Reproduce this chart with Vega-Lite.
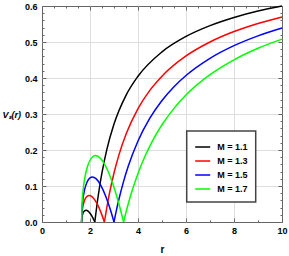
{
  "$schema": "https://vega.github.io/schema/vega-lite/v6.json",
  "width": 240,
  "height": 216,
  "autosize": {"type": "none"},
  "padding": {"left": 42, "top": 6, "right": 7, "bottom": 34},
  "config": {
    "view": {"stroke": "#666", "strokeWidth": 1},
    "legend": {"strokeWidth": 1.5},
    "axis": {"labelFont": "Liberation Sans", "labelFontWeight": "bold", "labelFontSize": 9, "labelColor": "#000", "titleFont": "Liberation Sans", "titleFontWeight": "bold", "titleFontSize": 10, "titleColor": "#000"}
  },
  "data": {"values": [
    {"M":"M = 1.1","s":"L","r":1.65,"V":0},{"M":"M = 1.1","s":"L","r":1.67,"V":0.0155},{"M":"M = 1.1","s":"L","r":1.71,"V":0.0248},{"M":"M = 1.1","s":"L","r":1.77,"V":0.0308},{"M":"M = 1.1","s":"L","r":1.84,"V":0.0325},{"M":"M = 1.1","s":"L","r":1.92,"V":0.0301},{"M":"M = 1.1","s":"L","r":2.0,"V":0.0245},{"M":"M = 1.1","s":"L","r":2.08,"V":0.0163},{"M":"M = 1.1","s":"L","r":2.15,"V":0.0073},{"M":"M = 1.1","s":"L","r":2.2,"V":0},
    {"M":"M = 1.1","s":"R","r":2.2,"V":0},{"M":"M = 1.1","s":"R","r":2.3,"V":0.0527},{"M":"M = 1.1","s":"R","r":2.4,"V":0.0979},{"M":"M = 1.1","s":"R","r":2.5,"V":0.1369},{"M":"M = 1.1","s":"R","r":2.7,"V":0.2009},{"M":"M = 1.1","s":"R","r":3.0,"V":0.272},{"M":"M = 1.1","s":"R","r":3.5,"V":0.3518},{"M":"M = 1.1","s":"R","r":4.0,"V":0.4049},{"M":"M = 1.1","s":"R","r":5.0,"V":0.4726},{"M":"M = 1.1","s":"R","r":6.0,"V":0.5154},{"M":"M = 1.1","s":"R","r":7.0,"V":0.5455},{"M":"M = 1.1","s":"R","r":8.0,"V":0.5682},{"M":"M = 1.1","s":"R","r":9.0,"V":0.586},{"M":"M = 1.1","s":"R","r":10,"V":0.6},
    {"M":"M = 1.3","s":"L","r":1.65,"V":0},{"M":"M = 1.3","s":"L","r":1.67,"V":0.0272},{"M":"M = 1.3","s":"L","r":1.71,"V":0.0451},{"M":"M = 1.3","s":"L","r":1.78,"V":0.0612},{"M":"M = 1.3","s":"L","r":1.87,"V":0.0709},{"M":"M = 1.3","s":"L","r":1.97,"V":0.0738},{"M":"M = 1.3","s":"L","r":2.08,"V":0.0706},{"M":"M = 1.3","s":"L","r":2.2,"V":0.0614},{"M":"M = 1.3","s":"L","r":2.33,"V":0.0461},{"M":"M = 1.3","s":"L","r":2.46,"V":0.0261},{"M":"M = 1.3","s":"L","r":2.6,"V":0},
    {"M":"M = 1.3","s":"R","r":2.6,"V":0},{"M":"M = 1.3","s":"R","r":2.7,"V":0.0401},{"M":"M = 1.3","s":"R","r":2.8,"V":0.0758},{"M":"M = 1.3","s":"R","r":3.0,"V":0.136},{"M":"M = 1.3","s":"R","r":3.2,"V":0.185},{"M":"M = 1.3","s":"R","r":3.5,"V":0.2435},{"M":"M = 1.3","s":"R","r":4.0,"V":0.3149},{"M":"M = 1.3","s":"R","r":4.5,"V":0.3662},{"M":"M = 1.3","s":"R","r":5.0,"V":0.4051},{"M":"M = 1.3","s":"R","r":6.0,"V":0.4612},{"M":"M = 1.3","s":"R","r":7.0,"V":0.5},{"M":"M = 1.3","s":"R","r":8.0,"V":0.529},{"M":"M = 1.3","s":"R","r":9.0,"V":0.5515},{"M":"M = 1.3","s":"R","r":10,"V":0.5697},
    {"M":"M = 1.5","s":"L","r":1.65,"V":0},{"M":"M = 1.5","s":"L","r":1.67,"V":0.0389},{"M":"M = 1.5","s":"L","r":1.71,"V":0.0654},{"M":"M = 1.5","s":"L","r":1.78,"V":0.0911},{"M":"M = 1.5","s":"L","r":1.88,"V":0.1112},{"M":"M = 1.5","s":"L","r":2.0,"V":0.1225},{"M":"M = 1.5","s":"L","r":2.1,"V":0.125},{"M":"M = 1.5","s":"L","r":2.25,"V":0.1203},{"M":"M = 1.5","s":"L","r":2.45,"V":0.1018},{"M":"M = 1.5","s":"L","r":2.65,"V":0.0725},{"M":"M = 1.5","s":"L","r":2.85,"V":0.034},{"M":"M = 1.5","s":"L","r":3.0,"V":0},
    {"M":"M = 1.5","s":"R","r":3.0,"V":0},{"M":"M = 1.5","s":"R","r":3.1,"V":0.0324},{"M":"M = 1.5","s":"R","r":3.2,"V":0.0617},{"M":"M = 1.5","s":"R","r":3.4,"V":0.1128},{"M":"M = 1.5","s":"R","r":3.6,"V":0.156},{"M":"M = 1.5","s":"R","r":4.0,"V":0.225},{"M":"M = 1.5","s":"R","r":4.5,"V":0.2891},{"M":"M = 1.5","s":"R","r":5.0,"V":0.3376},{"M":"M = 1.5","s":"R","r":5.5,"V":0.3759},{"M":"M = 1.5","s":"R","r":6.0,"V":0.4069},{"M":"M = 1.5","s":"R","r":7.0,"V":0.4546},{"M":"M = 1.5","s":"R","r":8.0,"V":0.4898},{"M":"M = 1.5","s":"R","r":9.0,"V":0.5171},{"M":"M = 1.5","s":"R","r":10,"V":0.5389},
    {"M":"M = 1.7","s":"L","r":1.65,"V":0},{"M":"M = 1.7","s":"L","r":1.67,"V":0.0506},{"M":"M = 1.7","s":"L","r":1.71,"V":0.0857},{"M":"M = 1.7","s":"L","r":1.78,"V":0.1209},{"M":"M = 1.7","s":"L","r":1.9,"V":0.1553},{"M":"M = 1.7","s":"L","r":2.05,"V":0.1767},{"M":"M = 1.7","s":"L","r":2.23,"V":0.1844},{"M":"M = 1.7","s":"L","r":2.45,"V":0.1759},{"M":"M = 1.7","s":"L","r":2.7,"V":0.1485},{"M":"M = 1.7","s":"L","r":2.95,"V":0.1062},{"M":"M = 1.7","s":"L","r":3.2,"V":0.0515},{"M":"M = 1.7","s":"L","r":3.4,"V":0},
    {"M":"M = 1.7","s":"R","r":3.4,"V":0},{"M":"M = 1.7","s":"R","r":3.5,"V":0.0271},{"M":"M = 1.7","s":"R","r":3.6,"V":0.052},{"M":"M = 1.7","s":"R","r":3.8,"V":0.0965},{"M":"M = 1.7","s":"R","r":4.0,"V":0.135},{"M":"M = 1.7","s":"R","r":4.3,"V":0.184},{"M":"M = 1.7","s":"R","r":4.6,"V":0.2249},{"M":"M = 1.7","s":"R","r":5.0,"V":0.2701},{"M":"M = 1.7","s":"R","r":5.5,"V":0.3157},{"M":"M = 1.7","s":"R","r":6.0,"V":0.3527},{"M":"M = 1.7","s":"R","r":7.0,"V":0.4091},{"M":"M = 1.7","s":"R","r":8.0,"V":0.4506},{"M":"M = 1.7","s":"R","r":9.0,"V":0.4826},{"M":"M = 1.7","s":"R","r":10,"V":0.5081}
  ]},
  "layer": [
    {
      "mark": {"type": "line", "interpolate": "monotone", "strokeWidth": 1.5},
      "encoding": {
        "x": {"field": "r", "type": "quantitative",
          "scale": {"domain": [0, 10], "nice": false, "zero": false},
          "axis": {"orient": "bottom", "title": "r", "titleY": 27, "titleBaseline": "middle",
            "values": [0,0.5,1,1.5,2,2.5,3,3.5,4,4.5,5,5.5,6,6.5,7,7.5,8,8.5,9,9.5,10],
            "format": "d",
            "labelExpr": "datum.value % 2 == 0 ? datum.label : ''",
            "labelOverlap": false, "labelFlush": false, "labelPadding": 8,
            "domain": false, "tickColor": "#666", "tickWidth": 1,
            "tickSize": {"condition": {"test": "datum.value % 2 == 0", "value": -4}, "value": -2},
            "grid": true, "gridColor": "#dddddd", "gridWidth": 1,
            "gridOpacity": {"condition": {"test": "datum.value % 2 == 0 && datum.value > 0 && datum.value < 10", "value": 1}, "value": 0}}},
        "y": {"field": "V", "type": "quantitative",
          "scale": {"domain": [0, 0.6], "nice": false},
          "axis": {"orient": "left", "title": "Vₛ(r)", "titleAngle": 0, "titleX": -40, "titleY": 108, "titleAlign": "left", "titleBaseline": "middle", "titleFontStyle": "italic", "titleFontSize": 9,
            "values": [0,0.02,0.04,0.06,0.08,0.1,0.12,0.14,0.16,0.18,0.2,0.22,0.24,0.26,0.28,0.3,0.32,0.34,0.36,0.38,0.4,0.42,0.44,0.46,0.48,0.5,0.52,0.54,0.56,0.58,0.6],
            "format": ".1f",
            "labelExpr": "abs(datum.value*10 - round(datum.value*10)) < 0.001 ? datum.label : ''",
            "labelOverlap": false, "labelFlush": false, "labelPadding": 9,
            "domain": false, "tickColor": "#666", "tickWidth": 1,
            "tickSize": {"condition": {"test": "abs(datum.value*10 - round(datum.value*10)) < 0.001", "value": -4}, "value": -2},
            "grid": true, "gridColor": "#dddddd", "gridWidth": 1,
            "gridOpacity": {"condition": {"test": "abs(datum.value*10 - round(datum.value*10)) < 0.001 && datum.value > 0.001 && datum.value < 0.599", "value": 1}, "value": 0}}},
        "color": {"field": "M", "type": "nominal",
          "scale": {"domain": ["M = 1.1", "M = 1.3", "M = 1.5", "M = 1.7"], "range": ["#000000", "#ff0000", "#0000ff", "#00ff00"]},
          "legend": {"title": null, "orient": "none", "legendX": 144.7, "legendY": 125,
            "symbolType": "stroke", "symbolSize": 225, "symbolStrokeWidth": 1.5,
            "labelFont": "Liberation Sans", "labelFontSize": 9, "labelFontWeight": "bold", "labelColor": "#000",
            "labelOffset": 6, "padding": 7.5, "rowPadding": 0,
            "strokeColor": "#444", "fillColor": "white"}},
        "detail": {"field": "s", "type": "nominal"}
      }
    },
    {
      "mark": {"type": "point", "opacity": 0},
      "encoding": {
        "x": {"field": "r", "type": "quantitative",
          "axis": {"orient": "top", "title": null, "labels": false, "domain": false, "grid": false,
            "values": [0,0.5,1,1.5,2,2.5,3,3.5,4,4.5,5,5.5,6,6.5,7,7.5,8,8.5,9,9.5,10],
            "tickColor": "#666", "tickWidth": 1,
            "tickSize": {"condition": {"test": "datum.value % 2 == 0", "value": -4}, "value": -2}}},
        "y": {"field": "V", "type": "quantitative",
          "axis": {"orient": "right", "title": null, "labels": false, "domain": false, "grid": false,
            "values": [0,0.02,0.04,0.06,0.08,0.1,0.12,0.14,0.16,0.18,0.2,0.22,0.24,0.26,0.28,0.3,0.32,0.34,0.36,0.38,0.4,0.42,0.44,0.46,0.48,0.5,0.52,0.54,0.56,0.58,0.6],
            "tickColor": "#666", "tickWidth": 1,
            "tickSize": {"condition": {"test": "abs(datum.value*10 - round(datum.value*10)) < 0.001", "value": -4}, "value": -2}}}
      }
    }
  ]
}
